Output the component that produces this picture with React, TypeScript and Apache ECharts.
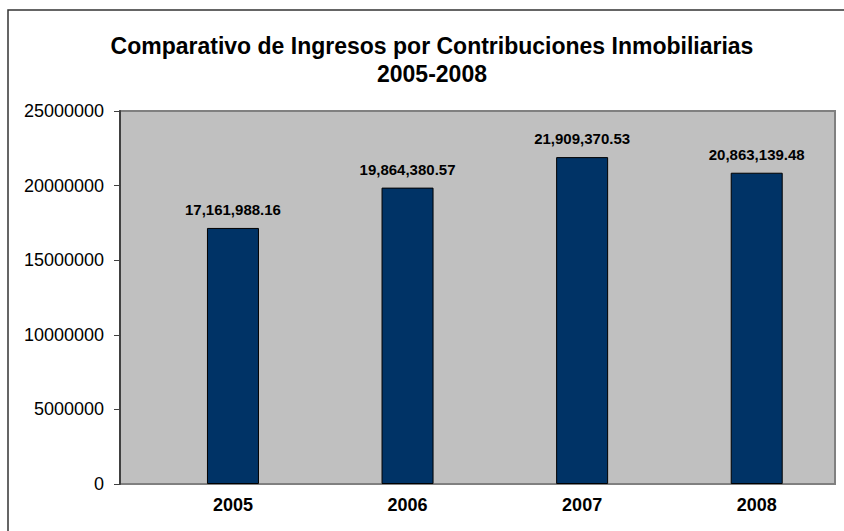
import React, { useEffect, useRef } from "react";
import * as echarts from "echarts";

const titleLines = ["Comparativo de Ingresos por Contribuciones Inmobiliarias", "2005-2008"];
const years = ["2005", "2006", "2007", "2008"];
const ingresos = [17161988.16, 19864380.57, 21909370.53, 20863139.48];
const yMin = 0;
const yMax = 25000000;
const yStep = 5000000;

const fmt = (v: number) =>
  v.toLocaleString("en-US", { minimumFractionDigits: 2, maximumFractionDigits: 2 });

export default function App() {
  const ref = useRef<HTMLDivElement>(null);
  useEffect(() => {
    if (!ref.current) return;
    const chart = echarts.init(ref.current, null, { renderer: "svg" });
    const font = "Arial, 'Liberation Sans', Helvetica, sans-serif";
    chart.setOption({
      animation: false,
      backgroundColor: "#ffffff",
      title: {
        text: titleLines.join("\n"),
        left: 427,
        textAlign: "center",
        top: 27,
        textStyle: {
          fontFamily: font,
          fontSize: 23,
          fontWeight: "bold",
          color: "#000",
          lineHeight: 28,
        },
      },
      graphic: [
        {
          type: "rect",
          z: -20,
          shape: { x: 8, y: 10, width: 900, height: 600 },
          style: { fill: "#ffffff", stroke: "#333333", lineWidth: 1.5 },
        },
        {
          type: "rect",
          z: -10,
          shape: { x: 120, y: 111, width: 715, height: 373 },
          style: { fill: "#C0C0C0", stroke: "#808080", lineWidth: 2 },
        },
      ],
      grid: {
        left: 145.67,
        top: 111,
        width: 714.67,
        height: 373,
        containLabel: false,
      },
      xAxis: {
        type: "category",
        data: years,
        axisLine: { show: false },
        axisTick: { show: false },
        axisLabel: {
          fontFamily: font,
          fontSize: 18,
          fontWeight: "bold",
          color: "#000",
          margin: 12,
        },
      },
      yAxis: {
        type: "value",
        min: yMin,
        max: yMax,
        interval: yStep,
        offset: 25.67,
        splitLine: { show: false },
        axisLine: { show: true, lineStyle: { color: "#404040", width: 2 } },
        axisTick: { show: true, length: 6, lineStyle: { color: "#404040", width: 1 } },
        axisLabel: {
          fontFamily: font,
          fontSize: 18,
          color: "#000",
          margin: 16,
          formatter: (v: number) => String(v),
        },
      },
      series: [
        {
          type: "bar",
          data: ingresos,
          barWidth: 52,
          itemStyle: { color: "#003366", borderColor: "#000", borderWidth: 1 },
          label: {
            show: true,
            position: "top",
            distance: 11,
            formatter: (p: any) => fmt(p.value),
            fontFamily: font,
            fontSize: 15,
            fontWeight: "bold",
            color: "#000",
          },
        },
      ],
    });
    return () => chart.dispose();
  }, []);
  return (
    <div
      ref={ref}
      style={{ position: "fixed", left: 0, top: 0, width: 844, height: 531 }}
    />
  );
}
